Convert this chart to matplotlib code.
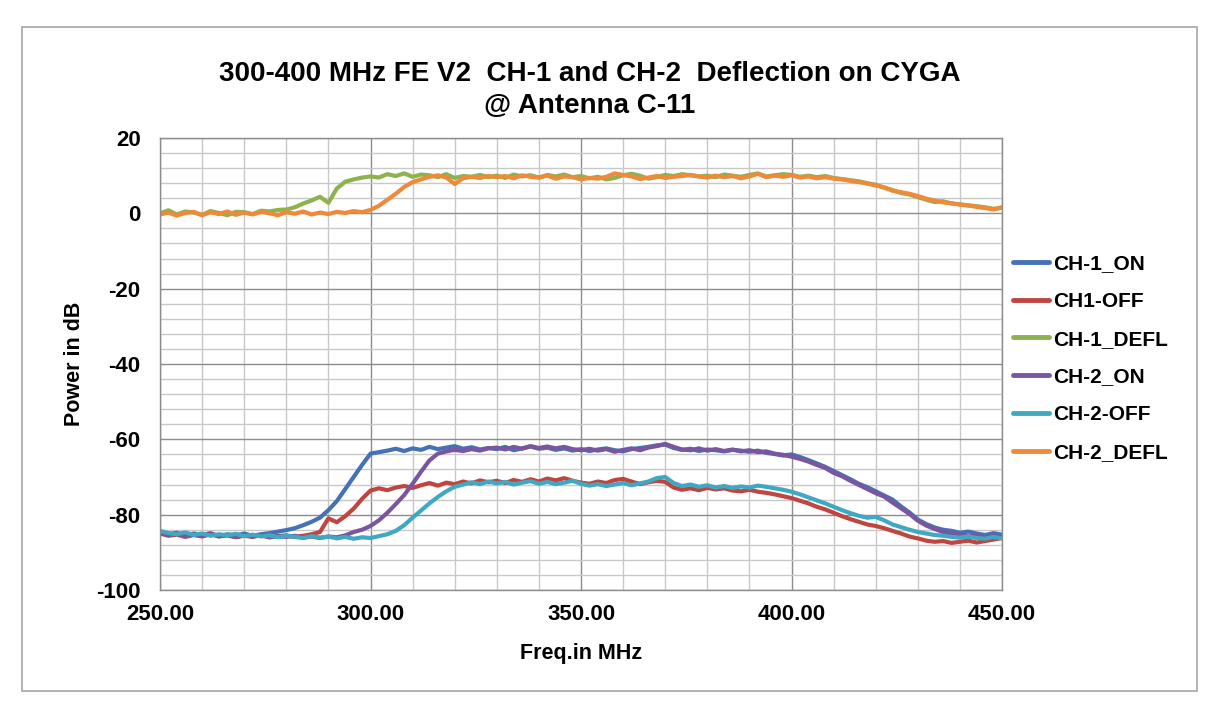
import numpy as np
import matplotlib
matplotlib.use("Agg")
import matplotlib.pyplot as plt
from matplotlib.patches import Rectangle
from matplotlib.ticker import MultipleLocator, FormatStrFormatter

plt.rcParams['font.family'] = ['Liberation Sans', 'DejaVu Sans']

# ---------------- data ----------------
freq_start, freq_stop, freq_step = 250, 450, 2
freq = np.arange(freq_start, freq_stop + 1, freq_step)

series_names = ["CH-1_ON", "CH1-OFF", "CH-1_DEFL", "CH-2_ON", "CH-2-OFF", "CH-2_DEFL"]
series_colors = ["#4472B4", "#C0453F", "#8DB24E", "#7A56A0", "#3FA8C2", "#EE8A3A"]

ch1_on = [
    -84.5, -85.2, -84.8, -85.6, -85.0, -85.4, -84.9, -85.7, -85.2, -85.5,
    -85.0, -85.6, -85.2, -84.9, -84.5, -84.1, -83.6, -82.8, -81.9, -80.8,
    -78.8, -76.4, -73.2, -70.0, -66.8, -63.8, -63.4, -63.0, -62.5, -63.1,
    -62.4, -62.8, -62.0, -62.6, -62.2, -61.8, -62.5, -62.1, -62.7, -62.3,
    -62.6, -62.0, -62.9, -62.4, -61.9, -62.5, -62.2, -62.8, -62.4, -63.0,
    -62.6, -63.1, -62.7, -62.4, -62.9, -63.2, -62.6, -62.3, -62.0, -61.6,
    -61.4, -62.3, -62.8, -62.5, -63.1, -62.7, -62.9, -63.2, -62.8, -63.0,
    -63.3, -63.0, -63.6, -63.9, -64.3, -64.0, -64.7, -65.5, -66.4, -67.3,
    -68.4, -69.5, -70.6, -71.8, -72.7, -73.8, -74.9, -76.0, -77.8, -79.4,
    -81.3, -82.5, -83.4, -84.0, -84.3, -84.8, -84.5, -85.0, -85.4, -84.9,
    -85.3,
]

ch1_off = [
    -85.0, -85.6, -85.3, -85.9, -85.4, -85.8, -85.2, -85.7, -85.5, -86.0,
    -85.6, -85.9, -85.4, -86.0, -85.7, -85.5, -85.9, -85.6, -85.2, -84.6,
    -81.0, -82.0, -80.4, -78.4, -75.8, -73.6, -73.0, -73.5, -72.8, -72.4,
    -72.9, -72.2, -71.6, -72.3, -71.5, -71.9, -71.2, -71.7, -70.9, -71.4,
    -71.0, -71.6, -70.8, -71.3, -70.6, -71.2, -70.4, -70.9, -70.3, -71.0,
    -71.5, -71.8, -71.2, -71.6, -70.8, -70.5, -71.2, -71.9, -71.4, -71.0,
    -71.3, -72.8, -73.4, -73.0, -73.5, -72.9, -73.3, -73.0, -73.6, -73.8,
    -73.4, -73.9, -74.2, -74.6, -75.1, -75.6, -76.3, -77.0, -77.9, -78.6,
    -79.5, -80.4, -81.2, -81.9, -82.6, -83.0, -83.6, -84.3, -85.0, -85.8,
    -86.3, -86.9, -87.2, -87.0, -87.5, -87.2, -86.9, -87.4, -87.0, -86.6,
    -86.2,
]

ch1_defl = [
    0.0, 0.8, -0.3, 0.5, 0.2, -0.4, 0.6, 0.1, -0.5, 0.4,
    0.3, -0.2, 0.7, 0.5, 0.9, 1.0, 1.6, 2.6, 3.4, 4.4,
    2.8, 6.6, 8.4, 9.0, 9.5, 9.8, 9.5, 10.4, 9.9, 10.6,
    9.7, 10.3, 10.1, 9.6, 10.4, 9.4, 9.9, 9.7, 10.2, 9.6,
    10.0, 9.4, 10.3, 9.8, 10.1, 9.5, 10.2, 9.8, 10.3, 9.6,
    9.9, 9.3, 9.7, 9.0, 9.4, 10.1, 10.5, 10.0, 9.2, 9.6,
    10.2, 9.9, 10.4, 10.1, 9.8, 10.0, 9.6, 10.3, 10.0, 9.7,
    10.2, 10.6, 9.8, 10.1, 10.4, 10.2, 9.7, 10.0, 9.6, 9.9,
    9.4, 9.1, 8.8, 8.5, 8.0, 7.6, 6.8, 6.2, 5.4, 5.0,
    4.3, 3.6, 3.0, 3.2, 2.6, 2.4, 2.1, 1.9, 1.6, 1.2,
    1.5,
]

ch2_on = [
    -84.8, -85.4, -85.0, -85.7, -85.3, -85.6, -85.1, -85.8, -85.4, -85.9,
    -85.4, -85.8, -85.5, -86.0, -85.7, -85.9, -85.6, -86.1, -85.8, -86.2,
    -85.8, -86.0, -85.5, -84.6, -84.0, -83.0, -81.5, -79.5, -77.2, -74.8,
    -71.8, -68.6, -65.6, -63.8, -63.2, -62.8, -63.1, -62.6, -63.0, -62.4,
    -62.2, -62.7, -62.0, -62.5, -61.8, -62.3, -61.9, -62.4, -62.0, -62.6,
    -62.9, -62.5, -63.0, -62.6, -63.3, -62.8, -62.4, -62.9, -62.2, -61.8,
    -61.2, -62.0, -62.7, -62.9, -62.4, -63.0, -62.6, -63.1, -62.7, -63.2,
    -62.9, -63.4, -63.2, -63.8, -64.1, -64.6, -65.2, -65.9, -66.8, -67.6,
    -68.9, -69.8, -71.0, -72.1, -73.2, -74.3, -75.2, -76.8, -78.3, -79.8,
    -81.6, -82.9, -83.8, -84.6, -85.0, -85.3, -85.8, -85.5, -86.0, -85.6,
    -86.2,
]

ch2_off = [
    -84.3, -84.9, -85.2, -84.7, -85.4, -85.0, -85.6, -85.2, -85.5, -85.1,
    -85.7, -85.3, -85.8, -85.5, -86.0, -85.6, -85.9, -86.2, -85.7, -86.1,
    -85.8, -86.3, -85.9, -86.4, -86.0, -86.2, -85.7, -85.2, -84.3, -82.8,
    -80.8, -78.9, -77.0, -75.3, -73.8, -72.6, -72.0, -71.4, -71.9, -71.2,
    -71.7, -71.3, -72.0, -71.5, -71.1, -71.8, -71.3, -71.9, -71.5, -71.0,
    -71.8, -72.3, -71.9, -72.4, -72.0, -71.6, -72.2, -71.7, -71.2, -70.3,
    -70.0, -71.6, -72.4, -72.0, -72.6, -72.2, -72.8, -72.4, -72.9, -72.5,
    -72.8, -72.3, -72.6, -73.0, -73.4, -73.9, -74.6, -75.4, -76.2, -77.0,
    -77.9, -78.8, -79.6, -80.3, -80.8, -80.6, -81.5, -82.6, -83.3, -84.0,
    -84.6, -85.0, -85.4, -85.6, -85.9, -86.1, -85.8, -86.2, -86.4, -85.9,
    -86.3,
]

ch2_defl = [
    -0.3, 0.2, -0.6, 0.1, 0.4, -0.5, 0.3, -0.2, 0.5, -0.4,
    0.2, -0.3, 0.4, 0.0, -0.5, 0.3, -0.1, 0.5, -0.3, 0.2,
    -0.2, 0.4, 0.1, 0.6, 0.3, 0.9, 2.0, 3.6, 5.2, 7.0,
    8.3, 9.0, 9.7, 10.1, 9.5, 7.8, 9.3, 9.7, 9.4, 9.9,
    9.6, 9.9, 9.3, 10.1, 9.7, 9.5, 10.0, 9.2, 9.8, 9.6,
    9.0, 9.4, 9.2, 9.7, 10.6, 10.2, 9.8, 9.1, 9.5, 9.9,
    9.4, 9.7, 9.9, 10.2, 9.8, 9.5, 10.0, 9.6, 9.9, 9.3,
    9.8, 10.5, 9.6, 10.0, 9.7, 10.1, 9.5, 9.8, 9.3, 9.6,
    9.2, 9.0, 8.6, 8.3, 7.9, 7.4, 6.9, 6.0, 5.6, 5.2,
    4.6, 3.9, 3.4, 2.9, 2.7, 2.3, 2.1, 1.7, 1.4, 1.0,
    1.6,
]

series_values = [ch1_on, ch1_off, ch1_defl, ch2_on, ch2_off, ch2_defl]

title_text = "300-400 MHz FE V2  CH-1 and CH-2  Deflection on CYGA\n@ Antenna C-11"
x_label = "Freq.in MHz"
y_label = "Power in dB"

# ---------------- figure ----------------
W, H = 1214, 714
fig = plt.figure(figsize=(W / 100, H / 100), dpi=100)
fig.patch.set_facecolor("white")

# chart-area frame
fig.patches.append(Rectangle((22 / W, 1 - 691 / H), (1197 - 22) / W, (691 - 27) / H,
                             transform=fig.transFigure, fill=False,
                             edgecolor="#A6A6A6", linewidth=1.2))

ax = fig.add_axes([160 / W, 1 - 590 / H, (1002 - 160) / W, (590 - 138) / H])

for name, vals, col in zip(series_names, series_values, series_colors):
    ax.plot(freq, vals, color=col, linewidth=3.0, label=name, solid_capstyle="round")

ax.set_xlim(250, 450)
ax.set_ylim(-100, 20)
ax.xaxis.set_major_locator(MultipleLocator(50))
ax.xaxis.set_minor_locator(MultipleLocator(10))
ax.yaxis.set_major_locator(MultipleLocator(20))
ax.yaxis.set_minor_locator(MultipleLocator(4))
ax.xaxis.set_major_formatter(FormatStrFormatter("%.2f"))
ax.yaxis.set_major_formatter(FormatStrFormatter("%d"))

ax.grid(which="major", color="#8C8C8C", linewidth=1.0)
ax.grid(which="minor", color="#C8C8C8", linewidth=1.0)
ax.set_axisbelow(True)
for sp in ax.spines.values():
    sp.set_color("#8C8C8C")
    sp.set_linewidth(1.0)

ax.tick_params(which="both", length=0)
ax.tick_params(axis="x", pad=10, labelsize=16)
ax.tick_params(axis="y", pad=14, labelsize=16)
for lab in ax.get_xticklabels() + ax.get_yticklabels():
    lab.set_fontweight("bold")

ax.set_xlabel(x_label, fontsize=15.5, fontweight="bold", labelpad=13)
ax.set_ylabel(y_label, fontsize=15.5, fontweight="bold", labelpad=8)

fig.text(590 / W, 1 - 90 / H, title_text, ha="center", va="center",
         fontsize=20, fontweight="bold", linespacing=1.32)

leg = fig.legend(loc="center left", bbox_to_anchor=(1013 / W, 1 - 358 / H),
                 frameon=False, fontsize=15, handlelength=1.75, handletextpad=0.2,
                 labelspacing=0.9, borderpad=0, borderaxespad=0)
for t in leg.get_texts():
    t.set_fontweight("bold")
for h in leg.get_lines():
    h.set_linewidth(3.5)

fig.savefig("out.png", dpi=100)
